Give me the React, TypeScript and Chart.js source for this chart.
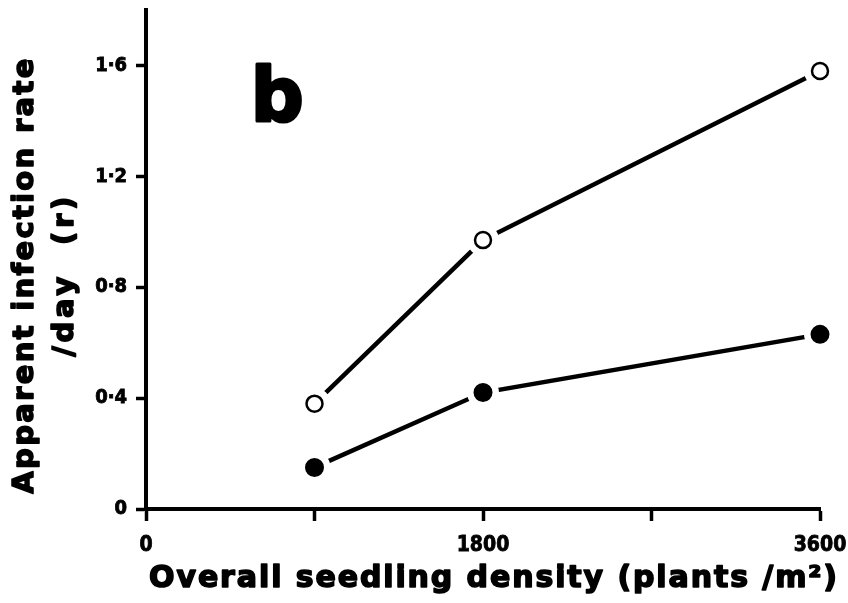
import React, { useEffect, useRef } from "react";
import { Chart, registerables } from "chart.js";

Chart.register(...registerables);

// ---- data ----
const densities = [900, 1800, 3600];
const rateOpen = [0.38, 0.97, 1.58];
const rateFilled = [0.15, 0.42, 0.63];

const xTicks = [0, 900, 1800, 2700, 3600];
const xTickLabels = ["0", "", "1800", "", "3600"];
const yTicks = [0, 0.4, 0.8, 1.2, 1.6];
const yTickLabels = ["0", "0·4", "0·8", "1·2", "1·6"];

const xTitle = "Overall seedling density (plants /m²)";
const yTitleLines = ["Apparent infection rate", "/day  (r)"];
const panelLabel = "b";
const panelLabelAt = { x: 560, y: 1.4 };

const TICK_FONT = "'Liberation Sans Narrow', 'DejaVu Sans Condensed', 'Arial Narrow', sans-serif";
const TITLE_FONT = "'DejaVu Sans', 'Open Sans', sans-serif";

const pts = (ys: number[]) => densities.map((x, i) => ({ x, y: ys[i] }));

function drawSpaced(ctx: CanvasRenderingContext2D, text: string, target: number) {
  (ctx as any).letterSpacing = "0px";
  const w = ctx.measureText(text).width;
  const n = Array.from(text).length;
  const sp = n > 1 ? Math.max(0, (target - w) / (n - 1)) : 0;
  (ctx as any).letterSpacing = sp + "px";
  ctx.textAlign = "left";
  const total = w + sp * (n - 1);
  ctx.strokeText(text, -total / 2, 0);
  ctx.fillText(text, -total / 2, 0);
}

const titlePlugin = {
  id: "titles",
  afterDraw(chart: any) {
    const ctx: CanvasRenderingContext2D = chart.ctx;
    const W = chart.width;
    const H = chart.height;
    ctx.save();
    ctx.fillStyle = "#000";
    ctx.strokeStyle = "#000";
    ctx.lineWidth = 1.6;
    ctx.lineJoin = "round";
    ctx.textBaseline = "alphabetic";

    // x title
    ctx.font = `bold 30px ${TITLE_FONT}`;
    ctx.save();
    ctx.translate(W * 0.5814, H * 0.9735);
    drawSpaced(ctx, xTitle, 688);
    ctx.restore();

    // y title (two lines, rotated)
    ctx.font = `bold 29px ${TITLE_FONT}`;
    ctx.save();
    ctx.translate(33, H * 0.458);
    ctx.rotate(-Math.PI / 2);
    drawSpaced(ctx, yTitleLines[0], 435);
    ctx.restore();
    ctx.save();
    ctx.translate(73, H * 0.459);
    ctx.rotate(-Math.PI / 2);
    drawSpaced(ctx, yTitleLines[1], 160);
    ctx.restore();

    // panel label
    ctx.font = `bold 74px ${TITLE_FONT}`;
    (ctx as any).letterSpacing = "0px";
    ctx.textAlign = "left";
    ctx.lineWidth = 3;
    const px = chart.scales.x.getPixelForValue(panelLabelAt.x);
    const py = chart.scales.y.getPixelForValue(panelLabelAt.y);
    ctx.strokeText(panelLabel, px, py);
    ctx.fillText(panelLabel, px, py);
    ctx.restore();
  },
};

export default function App() {
  const ref = useRef<HTMLCanvasElement | null>(null);

  useEffect(() => {
    document.body.style.margin = "0";
    const canvas = ref.current!;
    // first dataset is drawn top-most; within a dataset points sit above its line
    const chart = new Chart(canvas, {
      type: "scatter",
      data: {
        datasets: [
          {
            // open-circle rings
            data: pts(rateOpen),
            showLine: false,
            pointRadius: 8,
            pointHoverRadius: 8,
            pointBackgroundColor: "#fff",
            pointBorderColor: "#000",
            pointBorderWidth: 2.5,
            clip: false,
          },
          {
            // open series line with white gap discs
            data: pts(rateOpen),
            showLine: true,
            borderColor: "#000",
            borderWidth: 4.5,
            pointRadius: 12.5,
            pointHoverRadius: 12.5,
            pointBackgroundColor: "#fff",
            pointBorderColor: "#fff",
            pointBorderWidth: 7,
            clip: false,
          },
          {
            // filled series: line + black marker with white gap ring
            data: pts(rateFilled),
            showLine: true,
            borderColor: "#000",
            borderWidth: 4.5,
            pointRadius: 12.75,
            pointHoverRadius: 12.75,
            pointBackgroundColor: "#000",
            pointBorderColor: "#fff",
            pointBorderWidth: 6.5,
            clip: false,
          },
        ] as any,
      },
      options: {
        responsive: false,
        animation: false,
        events: [],
        layout: { autoPadding: false, padding: { top: 10, right: 28, left: 0, bottom: 0 } },
        plugins: { legend: { display: false }, tooltip: { enabled: false } },
        scales: {
          x: {
            type: "linear",
            min: 0,
            max: 3600,
            afterBuildTicks: (s: any) => {
              s.ticks = xTicks.map((v) => ({ value: v }));
            },
            afterFit: (s: any) => {
              s.height = 94;
              s.paddingLeft = 0;
              s.paddingRight = 0;
            },
            ticks: {
              autoSkip: false,
              maxRotation: 0,
              padding: 12,
              color: "#000",
              textStrokeColor: "#000",
              textStrokeWidth: 0.8,
              font: { family: TICK_FONT, size: 21, weight: "bold" },
              callback: (_v: any, i: number) => xTickLabels[i],
            },
            grid: {
              drawOnChartArea: false,
              drawTicks: true,
              tickLength: 12,
              tickWidth: 3.5,
              color: "#000",
            },
            border: { display: true, color: "#000", width: 4 },
          },
          y: {
            type: "linear",
            min: 0,
            max: 1.8,
            afterBuildTicks: (s: any) => {
              s.ticks = yTicks.map((v) => ({ value: v }));
            },
            afterFit: (s: any) => {
              s.width = 146;
              s.paddingTop = 0;
              s.paddingBottom = 0;
            },
            ticks: {
              padding: 9,
              color: "#000",
              textStrokeColor: "#000",
              textStrokeWidth: 0.8,
              font: { family: TICK_FONT, size: 20, weight: "bold" },
              callback: (_v: any, i: number) => yTickLabels[i],
            },
            grid: {
              drawOnChartArea: false,
              drawTicks: true,
              tickLength: 10,
              tickWidth: 3.5,
              color: "#000",
            },
            border: { display: true, color: "#000", width: 4 },
          },
        },
      } as any,
      plugins: [titlePlugin],
    });
    return () => chart.destroy();
  }, []);

  return (
    <div style={{ width: 848, height: 603, background: "#fff" }}>
      <canvas ref={ref} width={848} height={603} style={{ display: "block" }} />
    </div>
  );
}
